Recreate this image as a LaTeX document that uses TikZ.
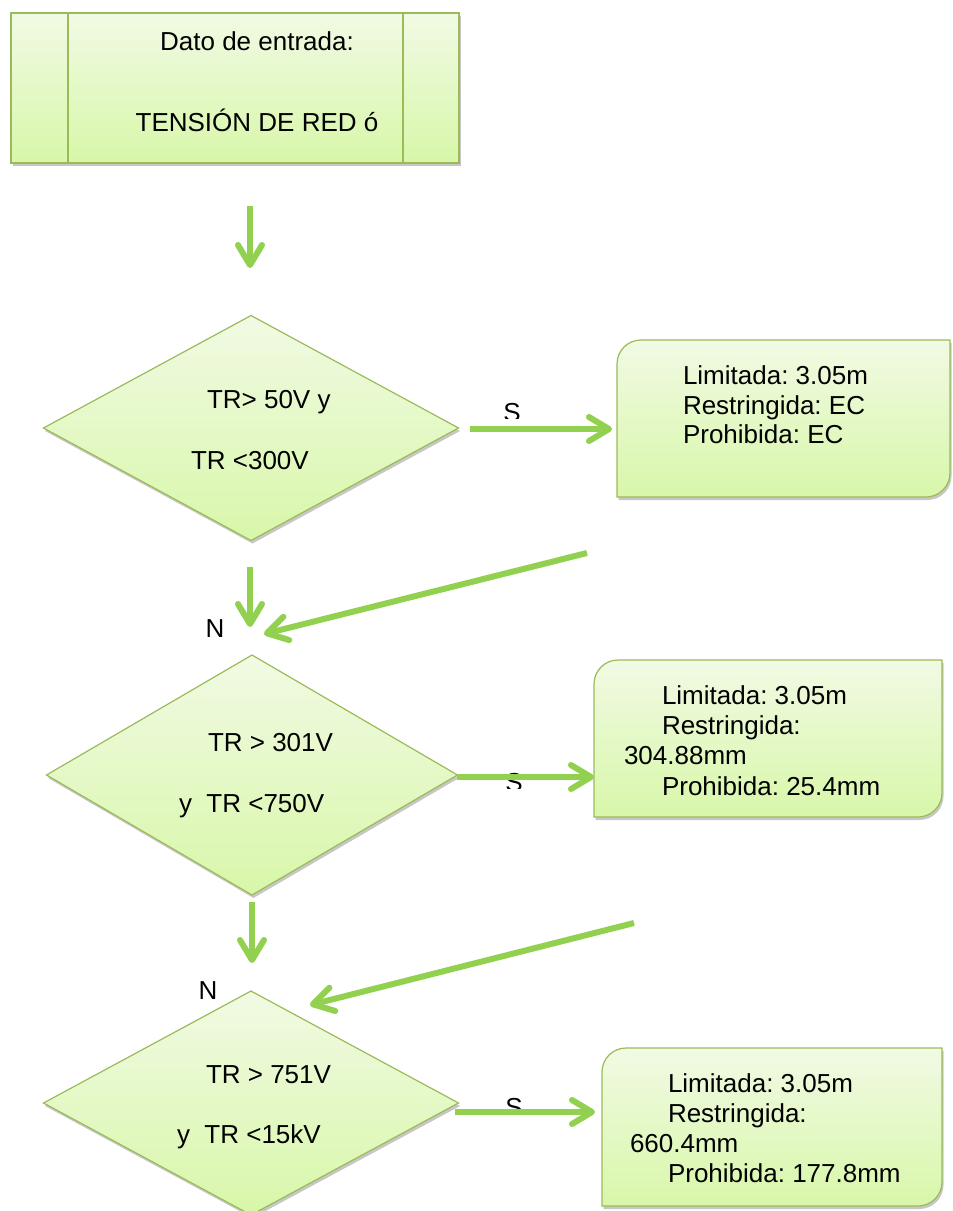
\documentclass[tikz,border=0pt]{standalone}
\usepackage{fontspec}
\setmainfont{Liberation Sans}
\frenchspacing
\usetikzlibrary{arrows.meta,shapes.geometric,shadows,calc}
\definecolor{arrowgreen}{HTML}{92D050}
\definecolor{edgegreen}{HTML}{9BBB59}
\definecolor{filltop}{HTML}{F1FAE4}
\definecolor{fillbot}{HTML}{D8F7A9}

% panel with the top-left and bottom-right corners rounded
\newcommand\roundedpanel[1]{%
  \path[shapefill]
    ($(#1.north west)+(0,24)$)
      .. controls ($(#1.north west)+(0,10.7)$) and ($(#1.north west)+(10.7,0)$) ..
    ($(#1.north west)+(24,0)$) -- (#1.north east) --
    ($(#1.south east)+(0,-24)$)
      .. controls ($(#1.south east)+(0,-10.7)$) and ($(#1.south east)+(-10.7,0)$) ..
    ($(#1.south east)+(-24,0)$) -- (#1.south west) -- cycle;}

\begin{document}
\begin{tikzpicture}[x=1pt,y=-1pt,
  font=\fontsize{26}{30}\selectfont,
  every node/.style={inner sep=0pt, outer sep=0pt},
  shapefill/.style={draw=edgegreen, line width=1.2pt,
    top color=filltop, bottom color=fillbot,
    drop shadow={shadow xshift=1.5pt, shadow yshift=-3pt, opacity=0.22, fill=black}},
  decision/.style={diamond, shapefill},
  txt/.style={anchor=base west, text=black},
  flow/.style={draw=arrowgreen, line width=6pt,
    -{Straight Barb[length=20pt,width=24pt,round]}},
]
\useasboundingbox (0,0) rectangle (953,1211);

% input block
\node[rectangle, shapefill, minimum width=448pt, minimum height=150pt] (inp) at (235,88) {};
\draw[edgegreen, line width=1.2pt] ($(inp.north west)+(57,0)$) -- ($(inp.south west)+(57,0)$);
\draw[edgegreen, line width=1.2pt] ($(inp.north east)+(-56,0)$) -- ($(inp.south east)+(-56,0)$);
\node[anchor=base] (in1) at (257,50) {Dato de entrada:};
\node[anchor=base] (in2) at (257,131) {TENSIÓN DE RED ó};

% decisions
\node[decision, minimum width=415pt, minimum height=225pt] (d1) at (251,428) {};
\node[txt] (d1a) at (207,408) {TR> 50V y};
\node[txt] (d1b) at (191,469) {TR <300V};

\node[decision, minimum width=411pt, minimum height=240pt] (d2) at (252,775) {};
\node[txt] (d2a) at (208,751) {TR > 301V};
\node[txt] (d2b) at (179,812) {y\ \ TR <750V};

\node[decision, minimum width=415pt, minimum height=224pt] (d3) at (251,1103) {};
\node[txt] (d3a) at (206,1083) {TR > 751V};
\node[txt] (d3b) at (177,1143) {y\ \ TR <15kV};

% result panels
\node[minimum width=333pt, minimum height=157pt] (r1) at (783.5,418.5) {};
\roundedpanel{r1}
\node[txt] (r1a) at (683,384) {Limitada: 3.05m};
\node[txt] (r1b) at (683,414) {Restringida: EC};
\node[txt] (r1c) at (683,443) {Prohibida: EC};

\node[minimum width=348pt, minimum height=157pt] (r2) at (768,738.5) {};
\roundedpanel{r2}
\node[txt] (r2a) at (662,704) {Limitada: 3.05m};
\node[txt] (r2b) at (662,734) {Restringida:};
\node[txt] (r2c) at (624,764) {304.88mm};
\node[txt] (r2d) at (662,795) {Prohibida: 25.4mm};

\node[minimum width=340pt, minimum height=158pt] (r3) at (772,1127) {};
\roundedpanel{r3}
\node[txt] (r3a) at (668,1092) {Limitada: 3.05m};
\node[txt] (r3b) at (668,1122) {Restringida:};
\node[txt] (r3c) at (630,1152) {660.4mm};
\node[txt] (r3d) at (668,1182) {Prohibida: 177.8mm};

% branch labels (partly hidden)
\begin{scope}
  \clip (490,380) rectangle (540,418);
  \node[anchor=base] (s1) at (512,421) {S};
\end{scope}
\begin{scope}
  \clip (490,750) rectangle (540,788);
  \node[anchor=base] (s2) at (514,791) {S};
\end{scope}
\begin{scope}
  \clip (490,1075) rectangle (540,1113);
  \node[anchor=base] (s3) at (514,1116) {S};
\end{scope}
\node[anchor=base] (n1) at (215,637) {N};
\node[anchor=base] (n2) at (208,999) {N};

% connectors
\coordinate (a1s) at (250,206); \coordinate (a1e) at (250,268);
\draw[flow] (a1s) -- (a1e);

\coordinate (s1s) at (470,429);
\draw[flow, shorten >=5pt] (s1s) -- (s1s -| r1.west);

\coordinate (a2s) at (250,567); \coordinate (a2e) at (250,627);
\draw[flow] (a2s) -- (a2e);
\coordinate (g1s) at (587,553); \coordinate (g1e) at (264,634);
\draw[flow] (g1s) -- (g1e);

\coordinate (s2s) at (457,777);
\draw[flow] (s2s) -- (s2s -| r2.west);

\coordinate (a3s) at (252,902); \coordinate (a3e) at (252,963);
\draw[flow] (a3s) -- (a3e);
\coordinate (g2s) at (634,923); \coordinate (g2e) at (310,1005);
\draw[flow] (g2s) -- (g2e);

\coordinate (s3s) at (455,1112);
\draw[flow, shorten >=7pt] (s3s) -- (s3s -| r3.west);
\end{tikzpicture}
\end{document}
